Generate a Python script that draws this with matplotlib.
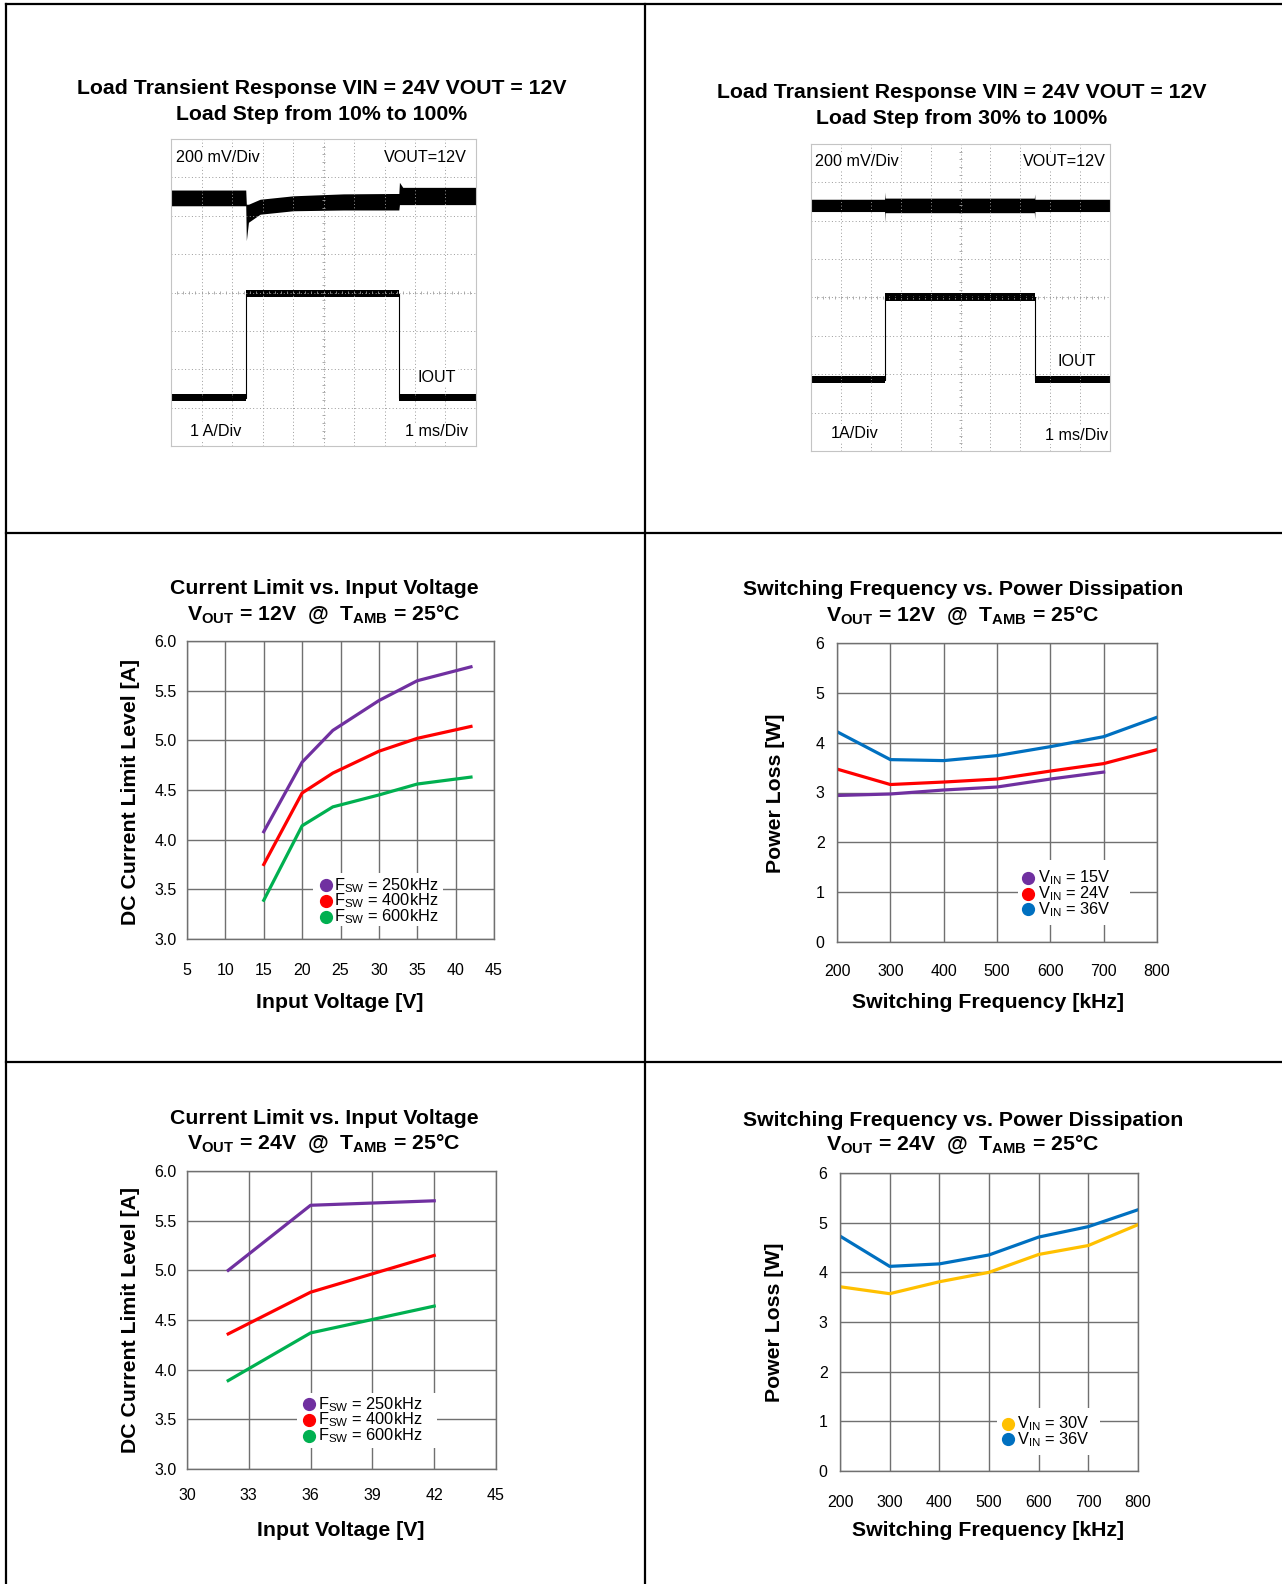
import matplotlib.pyplot as plt
from matplotlib.lines import Line2D
from matplotlib.patches import Rectangle
import numpy as np

plt.rcParams['font.family'] = ['Liberation Sans', 'DejaVu Sans']
plt.rcParams['mathtext.fontset'] = 'custom'
plt.rcParams['mathtext.rm'] = 'Liberation Sans'
plt.rcParams['mathtext.bf'] = 'Liberation Sans:bold'
plt.rcParams['mathtext.it'] = 'Liberation Sans:italic'

W, H = 1282, 1584

# ---------------- data ----------------
# scope shots, in screen divisions (10 x 8)
s1_vout_t = [0, 2.45, 2.47, 2.54, 2.92, 4.01, 5.65, 7.29, 7.47, 7.49, 7.6, 10]
s1_vout_hi = [6.67, 6.67, 6.30, 6.30, 6.43, 6.52, 6.57, 6.58, 6.58, 6.87, 6.74, 6.74]
s1_vout_lo = [6.26, 6.26, 5.35, 5.83, 6.04, 6.13, 6.15, 6.15, 6.15, 6.29, 6.29, 6.29]
s1_iout_t = [0, 2.46, 2.46, 7.49, 7.49, 10]
s1_iout = [1.26, 1.26, 3.97, 3.97, 1.26, 1.26]

s2_vout_t = [0, 2.46, 2.47, 2.48, 7.47, 7.48, 7.49, 10]
s2_vout_hi = [6.56, 6.56, 6.75, 6.59, 6.59, 6.70, 6.56, 6.56]
s2_vout_lo = [6.24, 6.24, 5.95, 6.21, 6.21, 6.05, 6.24, 6.24]
s2_iout_t = [0, 2.47, 2.47, 7.48, 7.48, 10]
s2_iout = [1.86, 1.86, 4.01, 4.01, 1.86, 1.86]

# current limit vs input voltage, VOUT = 12V
cl12_vin = [15, 20, 24, 30, 35, 42]
cl12_250 = [4.08, 4.78, 5.10, 5.40, 5.60, 5.74]
cl12_400 = [3.75, 4.47, 4.67, 4.89, 5.02, 5.14]
cl12_600 = [3.39, 4.14, 4.33, 4.45, 4.56, 4.63]

# current limit vs input voltage, VOUT = 24V
cl24_vin = [32, 36, 42]
cl24_250 = [5.00, 5.655, 5.70]
cl24_400 = [4.36, 4.78, 5.15]
cl24_600 = [3.89, 4.37, 4.64]

# power loss vs switching frequency
fsw = [200, 300, 400, 500, 600, 700, 800]
pl12_15 = [2.94, 2.97, 3.05, 3.11, 3.27, 3.41]
pl12_24 = [3.47, 3.16, 3.21, 3.27, 3.43, 3.58, 3.86]
pl12_36 = [4.22, 3.66, 3.64, 3.74, 3.92, 4.12, 4.51]
pl24_30 = [3.71, 3.57, 3.81, 4.00, 4.36, 4.54, 4.96]
pl24_36 = [4.73, 4.12, 4.17, 4.35, 4.71, 4.92, 5.26]

fsw_labels = [r'F$_{\mathregular{SW}}$ = 250kHz', r'F$_{\mathregular{SW}}$ = 400kHz',
              r'F$_{\mathregular{SW}}$ = 600kHz']
vin12_labels = [r'V$_{\mathregular{IN}}$ = 15V', r'V$_{\mathregular{IN}}$ = 24V',
                r'V$_{\mathregular{IN}}$ = 36V']
vin24_labels = [r'V$_{\mathregular{IN}}$ = 30V', r'V$_{\mathregular{IN}}$ = 36V']

PURPLE, RED, GREEN = '#7030A0', '#FF0000', '#00B050'
BLUE, YELLOW = '#0070C0', '#FFC000'
GRID = '#707070'

fig = plt.figure(figsize=(W / 100, H / 100), dpi=100)


def fx(x):
    return x / W


def fy(y):
    return 1 - y / H


def px_axes(l, t, r, b):
    ax = fig.add_axes([l / W, 1 - b / H, (r - l) / W, (b - t) / H])
    ax._box = (l, t, r, b)
    return ax


def label_pos(ax, x, y):
    l, t, r, b = ax._box
    return (x - l) / (r - l), (b - y) / (b - t)


# cell borders
for xs, ys in [([6, 6], [4, H]), ([645, 645], [4, H]), ([6, W], [4, 4]),
               ([6, W], [533, 533]), ([6, W], [1062, 1062])]:
    fig.add_artist(Line2D([fx(v) for v in xs], [fy(v) for v in ys], color='black',
                          lw=1.6, transform=fig.transFigure))


def title(cx, y1, y2, l1, l2):
    fig.text(fx(cx), fy(y1), l1, ha='center', va='center', fontsize=15.3, fontweight='bold')
    fig.text(fx(cx), fy(y2), l2, ha='center', va='center', fontsize=15.3, fontweight='bold')


# ---------------- scope shots ----------------
def scope(ax, vt, vhi, vlo, it, ilvl):
    ax.set_xlim(0, 10)
    ax.set_ylim(0, 8)
    ax.set_xticks([])
    ax.set_yticks([])
    for s in ax.spines.values():
        s.set_color('#c4c4c4')
        s.set_linewidth(0.8)
    for x in range(1, 10):
        ax.axvline(x, color='#9a9a9a', lw=0.7, ls=(0, (1, 2.5)))
    for y in range(1, 8):
        ax.axhline(y, color='#9a9a9a', lw=0.7, ls=(0, (1, 2.5)))
    ax.vlines(np.arange(0.2, 10, 0.2), 3.965, 4.035, color='#a0a0a0', lw=0.6)
    ax.hlines(np.arange(0.2, 8, 0.2), 4.95, 5.05, color='#a0a0a0', lw=0.6)
    ax.fill_between(vt, vlo, vhi, color='black', lw=0)
    lvl = np.array(ilvl)
    ax.fill_between(it, lvl - 0.095, lvl + 0.095, color='black', lw=0)
    ax.plot(it, ilvl, color='black', lw=0.8)


def scope_text(x, y, s, ha):
    fig.text(fx(x), fy(y), s, ha=ha, va='center', fontsize=11.6,
             bbox=dict(facecolor='white', edgecolor='none', pad=1))


ax1 = px_axes(171, 139, 476, 446)
scope(ax1, s1_vout_t, s1_vout_hi, s1_vout_lo, s1_iout_t, s1_iout)
scope_text(176, 158, '200 mV/Div', 'left')
scope_text(467, 158, 'VOUT=12V', 'right')
scope_text(437, 377, 'IOUT', 'center')
scope_text(216, 431, '1 A/Div', 'center')
scope_text(468, 432, '1 ms/Div', 'right')
title(322, 88, 114, 'Load Transient Response VIN = 24V VOUT = 12V',
      'Load Step from 10% to 100%')

ax2 = px_axes(811, 144, 1110, 451)
scope(ax2, s2_vout_t, s2_vout_hi, s2_vout_lo, s2_iout_t, s2_iout)
scope_text(815, 162, '200 mV/Div', 'left')
scope_text(1106, 162, 'VOUT=12V', 'right')
scope_text(1077, 362, 'IOUT', 'center')
scope_text(855, 433, '1A/Div', 'center')
scope_text(1108, 435, '1 ms/Div', 'right')
title(962, 92, 118, 'Load Transient Response VIN = 24V VOUT = 12V',
      'Load Step from 30% to 100%')


# ---------------- line charts ----------------
def setup(ax, xticks, yticks, yfmt, xpad, ypad):
    ax.set_xlim(xticks[0], xticks[-1])
    ax.set_ylim(yticks[0], yticks[-1])
    ax.set_xticks(xticks)
    ax.set_yticks(yticks)
    ax.set_yticklabels([yfmt.format(v) for v in yticks])
    ax.grid(True, color=GRID, lw=1.0)
    ax.set_axisbelow(True)
    ax.tick_params(length=0, labelsize=11.5)
    ax.tick_params(axis='x', pad=xpad)
    ax.tick_params(axis='y', pad=ypad)
    for s in ax.spines.values():
        s.set_color(GRID)
        s.set_linewidth(1.0)


def labels(ax, xl, xpos, yl, ypos):
    ax.set_xlabel(xl, fontsize=15.3, fontweight='bold', va='center')
    ax.xaxis.set_label_coords(*label_pos(ax, *xpos))
    ax.set_ylabel(yl, fontsize=15.3, fontweight='bold', va='center')
    ax.yaxis.set_label_coords(*label_pos(ax, *ypos))


def legend(box, mx, tx, rows, colors, texts):
    l, t, r, b = box
    fig.add_artist(Rectangle((fx(l), fy(b)), (r - l) / W, (b - t) / H,
                             facecolor='white', edgecolor='none',
                             transform=fig.transFigure, zorder=2))
    for y, c in zip(rows, colors):
        fig.add_artist(Line2D([fx(mx)], [fy(y)], marker='o', ms=8.5, color=c,
                              ls='none', transform=fig.transFigure, zorder=3))
    fig.text(fx(tx), fy(sum(rows) / len(rows)), '\n'.join(texts), ha='left',
             va='center', fontsize=11.8, linespacing=0.78, zorder=3)


LW = 2.3

# chart 3
ax3 = px_axes(187, 641, 494, 939)
setup(ax3, [5, 10, 15, 20, 25, 30, 35, 40, 45], [3.0, 3.5, 4.0, 4.5, 5.0, 5.5, 6.0],
      '{:.1f}', 17, 7.5)
ax3.plot(cl12_vin, cl12_250, color=PURPLE, lw=LW)
ax3.plot(cl12_vin, cl12_400, color=RED, lw=LW)
ax3.plot(cl12_vin, cl12_600, color=GREEN, lw=LW)
labels(ax3, 'Input Voltage [V]', (340, 1002), 'DC Current Limit Level [A]', (130, 792))
title(324, 588, 615, 'Current Limit vs. Input Voltage',
      r'V$_{\mathbf{OUT}}$ = 12V  @  T$_{\mathbf{AMB}}$ = 25°C')
legend((313, 873, 443, 926), 326, 334, [885, 901, 917], [PURPLE, RED, GREEN], fsw_labels)

# chart 4
ax4 = px_axes(837, 643, 1157, 942)
setup(ax4, fsw, [0, 1, 2, 3, 4, 5, 6], '{:d}', 16, 9)
ax4.plot(fsw[:len(pl12_15)], pl12_15, color=PURPLE, lw=LW)
ax4.plot(fsw, pl12_24, color=RED, lw=LW)
ax4.plot(fsw, pl12_36, color=BLUE, lw=LW)
labels(ax4, 'Switching Frequency [kHz]', (988, 1002), 'Power Loss [W]', (775, 793))
title(963, 590, 616, 'Switching Frequency vs. Power Dissipation',
      r'V$_{\mathbf{OUT}}$ = 12V  @  T$_{\mathbf{AMB}}$ = 25°C')
legend((1018, 860, 1130, 925), 1028, 1038, [878, 894, 909], [PURPLE, RED, BLUE], vin12_labels)

# chart 5
ax5 = px_axes(187, 1171, 496, 1469)
setup(ax5, [30, 33, 36, 39, 42, 45], [3.0, 3.5, 4.0, 4.5, 5.0, 5.5, 6.0],
      '{:.1f}', 14, 7.5)
ax5.plot(cl24_vin, cl24_250, color=PURPLE, lw=LW)
ax5.plot(cl24_vin, cl24_400, color=RED, lw=LW)
ax5.plot(cl24_vin, cl24_600, color=GREEN, lw=LW)
labels(ax5, 'Input Voltage [V]', (341, 1531), 'DC Current Limit Level [A]', (130, 1320))
title(324, 1118, 1144, 'Current Limit vs. Input Voltage',
      r'V$_{\mathbf{OUT}}$ = 24V  @  T$_{\mathbf{AMB}}$ = 25°C')
legend((297, 1393, 437, 1448), 309, 318, [1404, 1420, 1436], [PURPLE, RED, GREEN], fsw_labels)

# chart 6
ax6 = px_axes(840, 1173, 1138, 1471)
setup(ax6, fsw, [0, 1, 2, 3, 4, 5, 6], '{:d}', 17, 9)
ax6.plot(fsw, pl24_30, color=YELLOW, lw=LW)
ax6.plot(fsw, pl24_36, color=BLUE, lw=LW)
labels(ax6, 'Switching Frequency [kHz]', (988, 1531), 'Power Loss [W]', (775, 1322))
title(963, 1120, 1145, 'Switching Frequency vs. Power Dissipation',
      r'V$_{\mathbf{OUT}}$ = 24V  @  T$_{\mathbf{AMB}}$ = 25°C')
legend((997, 1408, 1100, 1455), 1008, 1017, [1424, 1439], [YELLOW, BLUE], vin24_labels)

fig.savefig('out.png', dpi=100)
